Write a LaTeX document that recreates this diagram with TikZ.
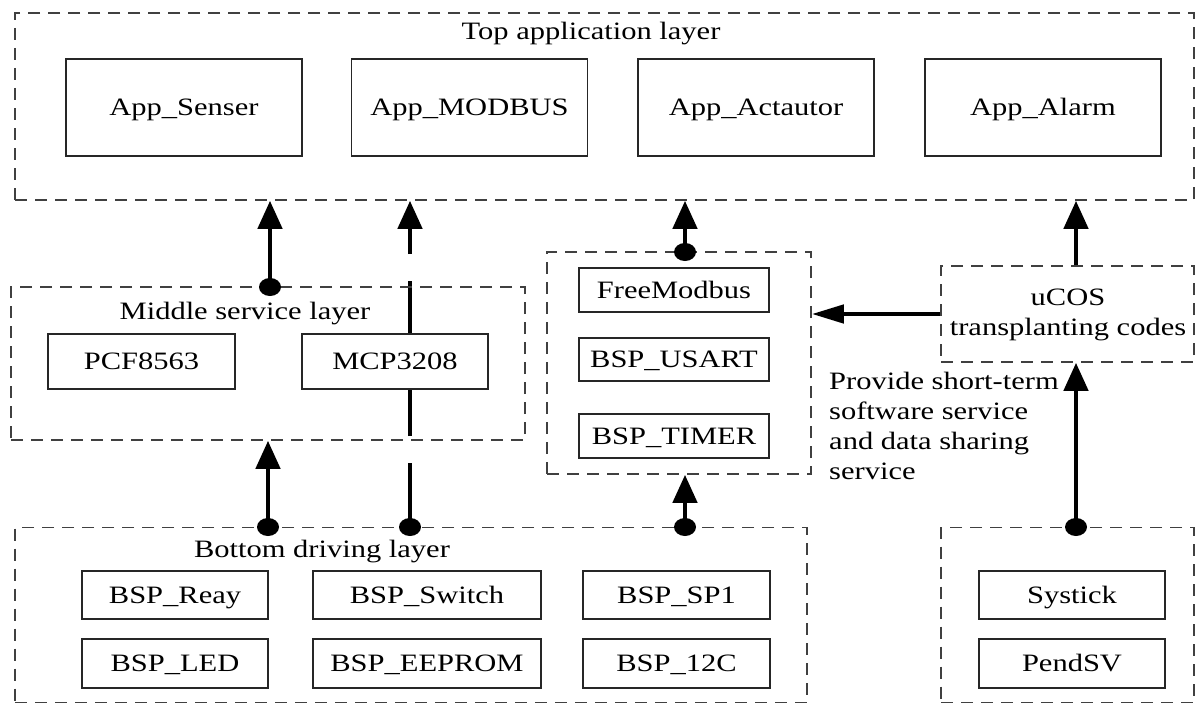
\documentclass[tikz,border=0pt]{standalone}
\usepackage{fontspec}
\setmainfont[FakeStretch=1.22]{Liberation Serif}
\usetikzlibrary{arrows.meta,shapes.geometric,backgrounds}

\begin{document}
\begin{tikzpicture}[x=1pt,y=-1pt,
  every node/.style={font=\fontsize{25}{30}\selectfont, inner sep=0pt},
  capline/.style={text height=16.5pt, text depth=0pt},
  layerbox/.style={draw=black!75, line width=1.6pt, dash pattern=on 12pt off 8pt},
  modbox/.style={capline, draw=black!85, line width=1.8pt, fill=white},
  conn/.style={line width=4.5pt, black},
  uparrow/.style={conn, -{Triangle[length=28pt,width=24pt]}},
  leftarrow/.style={conn, -{Triangle[length=32pt,width=18pt]}},
  joint/.style={ellipse, fill=black, minimum width=22pt, minimum height=18pt}
]
\useasboundingbox (0,0) rectangle (1200,704);

% ---- top application layer ----
\node[layerbox, minimum width=1179pt, minimum height=187pt] (top) at (604.5,106.5) {};
\node[capline] (toplbl) at (591,31) {Top application layer};
\node[modbox, minimum width=236pt, minimum height=97pt] (senser) at (184,107.5) {App\_Senser};
\node[modbox, minimum width=236pt, minimum height=97pt] (modbus) at (469.5,107.5) {App\_MODBUS};
\node[modbox, minimum width=236pt, minimum height=97pt] (actor) at (756,107.5) {App\_Actautor};
\node[modbox, minimum width=236pt, minimum height=97pt] (alarm) at (1043,107.5) {App\_Alarm};

% ---- middle service layer ----
\node[layerbox, minimum width=514pt, minimum height=153pt] (mid) at (268,363.5) {};
\node[capline] (midlbl) at (245,311) {Middle service layer};
\node[modbox, minimum width=187pt, minimum height=55pt] (pcf) at (141.5,361.5) {PCF8563};
\node[modbox, minimum width=186pt, minimum height=55pt] (mcp) at (395,361.5) {MCP3208};

% ---- communication column ----
\node[layerbox, minimum width=264pt, minimum height=222pt] (col) at (679,363) {};
\node[modbox, minimum width=190pt, minimum height=44pt] (freemb) at (674,290) {FreeModbus};
\node[modbox, minimum width=190pt, minimum height=43pt] (usart) at (674,359.5) {BSP\_USART};
\node[modbox, minimum width=190pt, minimum height=44pt] (timer) at (674,436) {BSP\_TIMER};

% ---- RTOS port ----
\node[layerbox, minimum width=253pt, minimum height=96pt] (ucos) at (1067.5,314) {};
\node[align=center] (ucoslbl) at (1068,315) {uCOS\\transplanting codes};
\node[align=left, anchor=west] (note) at (829,426) {Provide short-term\\software service\\and data sharing\\service};

% ---- bottom driving layer ----
\node[layerbox, minimum width=792pt, minimum height=175pt] (bot) at (411,615) {};
\node[capline] (botlbl) at (322,549) {Bottom driving layer};
\node[modbox, minimum width=186pt, minimum height=48pt] (reay) at (175,595) {BSP\_Reay};
\node[modbox, minimum width=228pt, minimum height=48pt] (switch) at (427,595) {BSP\_Switch};
\node[modbox, minimum width=187pt, minimum height=48pt] (spi) at (676.5,595) {BSP\_SP1};
\node[modbox, minimum width=186pt, minimum height=49pt] (led) at (175,663.5) {BSP\_LED};
\node[modbox, minimum width=228pt, minimum height=49pt] (eeprom) at (427,663.5) {BSP\_EEPROM};
\node[modbox, minimum width=187pt, minimum height=49pt] (iic) at (676.5,663.5) {BSP\_12C};

% ---- kernel interrupts ----
\node[layerbox, minimum width=253pt, minimum height=175pt] (kern) at (1067.5,615) {};
\node[modbox, minimum width=186pt, minimum height=48pt] (systick) at (1072,595) {Systick};
\node[modbox, minimum width=186pt, minimum height=49pt] (pendsv) at (1072,663.5) {PendSV};

% ---- joints ----
\node[joint] (j1) at (270,287) {};
\node[joint] (j2) at (410,527) {};
\node[joint] (j3) at (268,527) {};
\node[joint] (j4) at (685,252) {};
\node[joint] (j5) at (685,527) {};
\node[joint] (j6) at (1076,527) {};

% ---- connectors ----
\begin{scope}[on background layer]
  \draw[uparrow] (j1.center) -- (j1.center |- top.south);
  \draw[uparrow, dash pattern=on 64pt off 27pt] (j2.center) -- (j2.center |- top.south);
  \draw[uparrow] (j3.center) -- (j3.center |- mid.south);
  \draw[uparrow] (j4.center) -- (j4.center |- top.south);
  \draw[uparrow] (j5.center) -- (j5.center |- col.south);
  \draw[leftarrow] (ucos.west) -- (ucos.west -| col.east);
  \draw[uparrow] (j6.center) -- (j6.center |- ucos.south);
  \draw[uparrow] (j6 |- ucos.north) -- (j6 |- top.south);
\end{scope}
\end{tikzpicture}
\end{document}
